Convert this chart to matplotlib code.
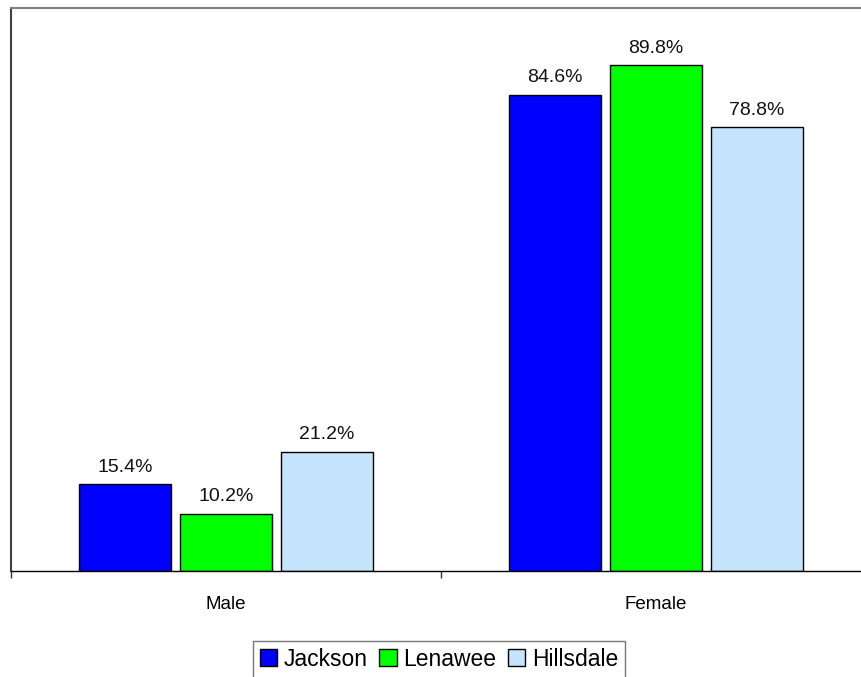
"""
Grouped bar chart: Male / Female share by county.
"""

import matplotlib.pyplot as plt
import numpy as np

# ── Data ───────────────────────────────────────────────────────
CATEGORIES = ['Male', 'Female']
SERIES = ['Jackson', 'Lenawee', 'Hillsdale']
JACKSON = [15.4, 84.6]
LENAWEE = [10.2, 89.8]
HILLSDALE = [21.2, 78.8]
COLORS = ['#0000FF', '#00FF00', '#C3E4FA']
OUTPUT_PATH = 'out.png'
# ───────────────────────────────────────────────────────────────

plt.rcParams['font.family'] = ['Liberation Sans', 'DejaVu Sans']

W, H = 861, 677
fig = plt.figure(figsize=(W / 100, H / 100), dpi=100)
ax = fig.add_axes([11 / W, 106 / H, 860 / W, 563 / H])

x = np.arange(len(CATEGORIES))
width = 0.214
offset = 0.235
values = [JACKSON, LENAWEE, HILLSDALE]

for i, (name, vals, color) in enumerate(zip(SERIES, values, COLORS)):
    pos = x + (i - 1) * offset
    bars = ax.bar(pos, vals, width, color=color, edgecolor='black',
                  linewidth=1, label=name)
    for b, v in zip(bars, vals):
        ax.annotate(f'{v:.1f}%', (b.get_x() + b.get_width() / 2, v),
                    xytext=(0, 6), textcoords='offset points',
                    ha='center', va='bottom', fontsize=14, color='#111111')

ax.set_xlim(-0.5, 1.5)
ax.set_ylim(0, 100)
ax.set_yticks([])
ax.set_xticks(x)
ax.set_xticklabels(CATEGORIES, fontsize=13.5)
ax.set_xticks([-0.5, 0.5, 1.5], minor=True)
ax.tick_params(axis='x', which='major', length=0, pad=18)
ax.tick_params(axis='x', which='minor', length=5, width=1, color='#333333',
               direction='out')

ax.spines['top'].set_color('#808080')
ax.spines['top'].set_linewidth(1.5)
ax.spines['left'].set_color('#404040')
ax.spines['left'].set_linewidth(1.5)
ax.spines['bottom'].set_color('black')
ax.spines['bottom'].set_linewidth(1)

leg = fig.legend(loc='upper center', bbox_to_anchor=(439 / W, 1 - 641 / H),
                 ncol=3, fontsize=16.5, frameon=True, fancybox=False,
                 edgecolor='#555555', handlelength=0.75, handleheight=0.75,
                 handletextpad=0.3, columnspacing=0.5, borderpad=0.3,
                 borderaxespad=0)
leg.get_frame().set_linewidth(1)

fig.savefig(OUTPUT_PATH, dpi=100)
